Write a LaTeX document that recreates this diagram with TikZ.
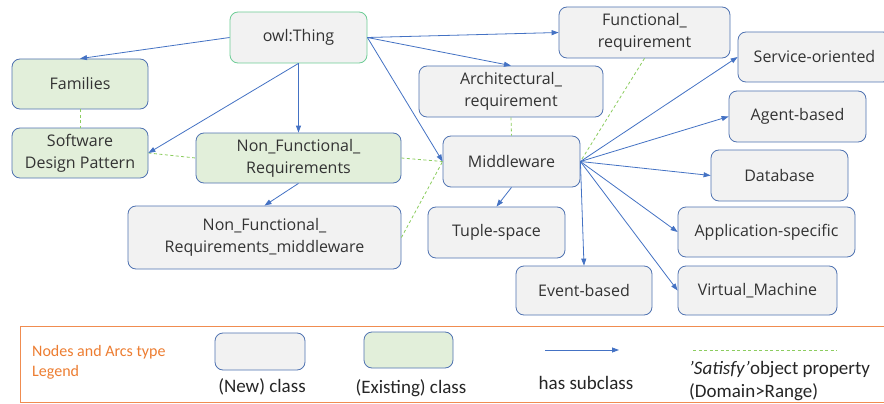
\documentclass[tikz,border=0pt]{standalone}
\usepackage{fontspec}
\setmainfont{Open Sans}
\newfontfamily\legfont{Carlito}
\usetikzlibrary{arrows.meta}
\definecolor{nodeline}{RGB}{80,115,178}
\definecolor{nodefill}{RGB}{242,242,242}
\definecolor{greenfill}{RGB}{226,239,218}
\definecolor{thingline}{RGB}{110,205,150}
\definecolor{arrowblue}{RGB}{68,114,196}
\definecolor{satgreen}{RGB}{140,205,95}
\definecolor{legorange}{RGB}{240,140,80}
\definecolor{legtext}{RGB}{237,125,49}
\tikzset{
  cls/.style={draw=nodeline, line width=0.8pt, rounded corners=8pt, fill=nodefill, align=center,
    inner sep=0pt, font=\fontsize{16}{22}\selectfont, text=black!80},
  newc/.style={cls},
  oldc/.style={cls, fill=greenfill},
  sub/.style={draw=arrowblue, line width=0.8pt, -{Triangle[length=7pt,width=5pt]}},
  sat/.style={draw=satgreen, line width=0.8pt, dash pattern=on 3pt off 2.5pt},
  leglabel/.style={font=\legfont\fontsize{19}{23}\selectfont, inner sep=0pt, text=black!85},
}
\begin{document}
\begin{tikzpicture}[x=1pt,y=-1pt]
\useasboundingbox (0,0) rectangle (884,404);
\fill[white] (0,0) rectangle (884,404);
% nodes
\node[newc, draw=thingline, minimum width=137pt, minimum height=51pt] (thing) at (298.5,37.5) {owl:Thing};
\node[oldc, minimum width=136pt, minimum height=50pt] (families) at (80,84) {Families};
\node[oldc, minimum width=136pt, minimum height=50pt] (sdp) at (80,153) {Software\\Design Pattern};
\node[oldc, minimum width=205pt, minimum height=50pt] (nfr) at (298.5,158) {Non\_Functional\_\\Requirements};
\node[newc, minimum width=273pt, minimum height=63pt] (nfrm) at (264.5,237.5) {Non\_Functional\_\\Requirements\_middleware};
\node[newc, minimum width=137pt, minimum height=51pt] (mw) at (511.5,161.5) {Middleware};
\node[newc, minimum width=184pt, minimum height=51pt] (arch) at (511,91.5) {Architectural\_\\requirement};
\node[newc, minimum width=171pt, minimum height=51pt] (func) at (644.5,32.5) {Functional\_\\requirement};
\node[newc, minimum width=153pt, minimum height=50pt] (serv) at (814.5,57) {Service-oriented};
\node[newc, minimum width=137pt, minimum height=51pt] (agent) at (797.5,116.5) {Agent-based};
\node[newc, minimum width=137pt, minimum height=51pt] (db) at (779.5,175.5) {Database};
\node[newc, minimum width=177pt, minimum height=50pt] (app) at (766.5,232) {Application-specific};
\node[newc, minimum width=159pt, minimum height=49pt] (vm) at (757.5,290.5) {Virtual\_Machine};
\node[newc, minimum width=136pt, minimum height=49pt] (event) at (584,290.5) {Event-based};
\node[newc, minimum width=137pt, minimum height=51pt] (tuple) at (496.5,232.5) {Tuple-space};
% satisfy (dashed)
\draw[sat] (families.south) -- (sdp.north);
\draw[sat] (sdp.east) -- (nfr.west);
\draw[sat] (nfr.east) -- (mw.west);
\draw[sat] (nfrm.east) -- (mw.west);
\draw[sat] (arch.south) -- (mw.north);
\draw[sat] (func.south) -- (mw.east);
% subclass arrows
\draw[sub] (thing.west) -- (families.north);
\draw[sub] (thing.south) -- (sdp.east);
\draw[sub] (thing.south) -- (nfr.north);
\draw[sub] (thing.east) -- (mw.west);
\draw[sub] (thing.east) -- (func.west);
\draw[sub] (thing.east) -- (arch.north);
\draw[sub] (nfr.south) -- (nfrm.north);
\draw[sub] (mw.south) -- (tuple.north);
\draw[sub] (mw.east) -- (event.north);
\draw[sub] (mw.east) -- (serv.west);
\draw[sub] (mw.east) -- (agent.west);
\draw[sub] (mw.east) -- (db.west);
\draw[sub] (mw.east) -- (app.west);
\draw[sub] (mw.east) -- (vm.west);
% legend
\draw[legorange, line width=1pt] (20,326) rectangle (900,402);
\node[anchor=west, inner sep=0pt, font=\legfont\fontsize{16}{20}\selectfont, text=legtext, align=left] (legtitle) at (32,362) {Nodes and Arcs type\\Legend};
\node[newc, minimum width=90pt, minimum height=37pt] (lnew) at (260,351.5) {};
\node[oldc, minimum width=89pt, minimum height=36pt] (lold) at (408.5,350) {};
\node[leglabel] (lnewt) at (262,387) {(New) class};
\node[leglabel] (loldt) at (411,388) {(Existing) class};
\coordinate (la1) at (545,350);
\coordinate (la2) at (619,350);
\draw[sub] (la1) -- (la2);
\node[leglabel] (lsubt) at (586,383) {has subclass};
\coordinate (ld1) at (693,350);
\coordinate (ld2) at (837,350);
\draw[sat] (ld1) -- (ld2);
\node[leglabel, anchor=west] (lsat1) at (689,370) {\textit{’Satisfy’}object property};
\node[leglabel, anchor=west] (lsat2) at (689,392) {(Domain>Range)};
\end{tikzpicture}
\end{document}
